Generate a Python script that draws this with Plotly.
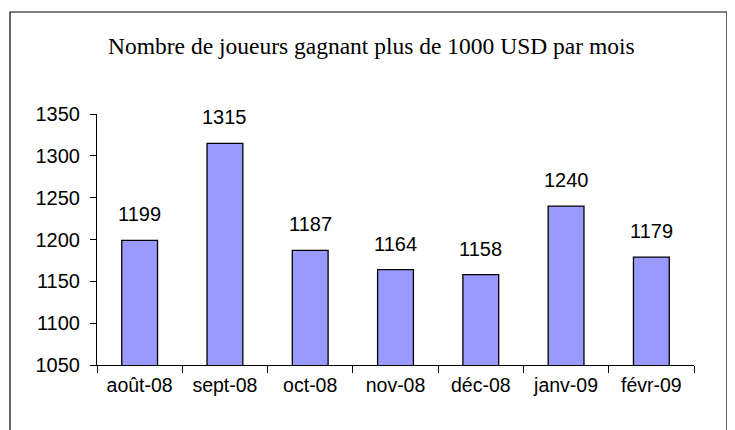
import plotly.graph_objects as go

months = ["août-08", "sept-08", "oct-08", "nov-08", "déc-08", "janv-09", "févr-09"]
players = [1199, 1315, 1187, 1164, 1158, 1240, 1179]
title_text = "Nombre de joueurs gagnant plus de 1000 USD par mois"

# page body has an 8px margin, so work in figure coordinates = reference - 8
OFF = 8
W, H = 735 - OFF, 430 - OFF
L, R, T, B = 97 - OFF, 694 - OFF, 114 - OFF, 365 - OFF
pw, ph = R - L, B - T

def px_x(x):
    return (x - OFF - L) / pw

def px_y(y):
    return (B - (y - OFF)) / ph

fig = go.Figure()
fig.add_trace(go.Bar(
    x=months, y=players,
    marker=dict(color="#9999FF", line=dict(color="black", width=1.3)),
    width=0.42,
    hoverinfo="skip",
))

for m, v in zip(months, players):
    fig.add_annotation(x=m, y=v, text=str(v), showarrow=False, yshift=26,
                       font=dict(family="Liberation Sans, Arial", size=20, color="black"))

fig.add_annotation(xref="paper", yref="paper", x=px_x(371), y=px_y(46), text=title_text,
                   showarrow=False, xanchor="center", yanchor="middle",
                   font=dict(family="Liberation Serif, Times New Roman", size=23.5, color="black"))

fig.add_shape(type="rect", xref="paper", yref="paper",
              x0=px_x(10), x1=px_x(727), y0=px_y(445), y1=px_y(12),
              line=dict(color="black", width=1.2), fillcolor="rgba(0,0,0,0)", layer="below")

fig.update_layout(
    width=W, height=H,
    margin=dict(l=L, r=W - R, t=T, b=H - B, pad=0),
    paper_bgcolor="white", plot_bgcolor="white",
    showlegend=False,
    font=dict(family="Liberation Sans, Arial", size=20, color="black"),
    xaxis=dict(type="category", showline=True, linecolor="black", linewidth=1,
               ticks="outside", tickson="boundaries", ticklen=7, tickcolor="black",
               showgrid=False, ticklabelstandoff=3, tickfont=dict(size=19.5)),
    yaxis=dict(range=[1050, 1350], dtick=50, showline=True, linecolor="black", linewidth=1,
               ticks="outside", ticklen=6, tickcolor="black", showgrid=False, zeroline=False,
               ticklabelstandoff=6, tickfont=dict(size=20)),
)

fig.write_html("out.html")
